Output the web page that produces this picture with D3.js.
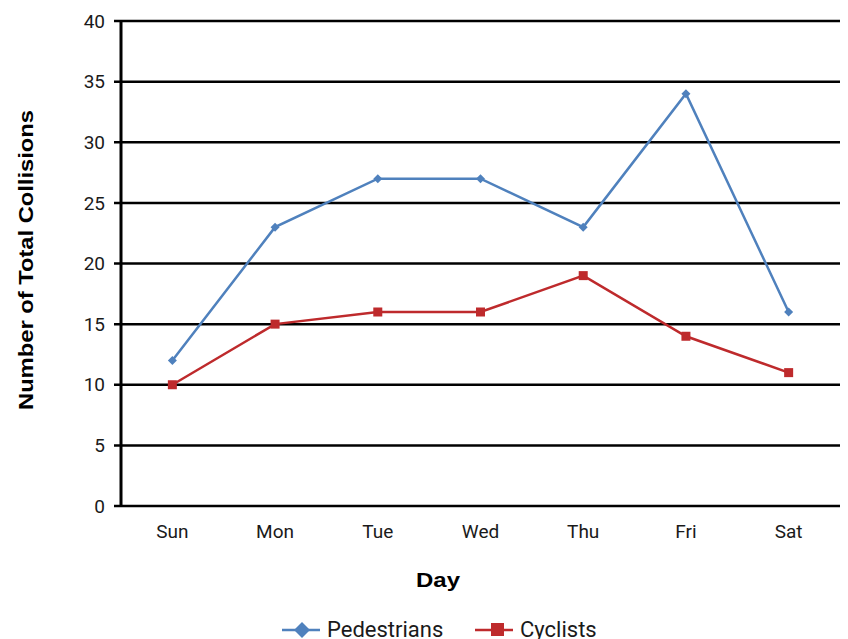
<!DOCTYPE html>
<html>
<head>
<meta charset="utf-8">
<script src="https://cdn.jsdelivr.net/npm/d3@7"></script>
<style>
  html, body { margin: 0; padding: 0; background: #fff; }
  svg { display: block; }
</style>
</head>
<body>
<svg id="chart" width="848" height="639"></svg>
<script>
// Collisions by day of week
const days = ["Sun", "Mon", "Tue", "Wed", "Thu", "Fri", "Sat"];
const pedestrians = [12, 23, 27, 27, 23, 34, 16];
const cyclists = [10, 15, 16, 16, 19, 14, 11];
const yTicks = [0, 5, 10, 15, 20, 25, 30, 35, 40];

const blue = "#4f81bd";
const red = "#be2a2c";
const tickFont = "Roboto, 'Liberation Sans', sans-serif";
const titleFont = "'Liberation Sans', Arial, sans-serif";

const svg = d3.select("#chart");
const plot = { left: 121, right: 840, top: 21, bottom: 506 };

const x = d3.scaleBand().domain(days).range([plot.left, plot.right]);
const y = d3.scaleLinear().domain([0, 40]).range([plot.bottom, plot.top]);

// horizontal gridlines
svg.append("g")
  .selectAll("line")
  .data(yTicks)
  .join("line")
  .attr("x1", plot.left - 7)
  .attr("x2", plot.right)
  .attr("y1", d => y(d))
  .attr("y2", d => y(d))
  .attr("stroke", "#000")
  .attr("stroke-width", 2.5);

// y axis line
svg.append("line")
  .attr("x1", plot.left).attr("x2", plot.left)
  .attr("y1", y(40)).attr("y2", y(0))
  .attr("stroke", "#000").attr("stroke-width", 3);

// y tick labels
svg.append("g")
  .selectAll("text")
  .data(yTicks)
  .join("text")
  .attr("x", plot.left - 16)
  .attr("y", d => y(d))
  .attr("dy", "0.35em")
  .attr("text-anchor", "end")
  .attr("font-family", tickFont)
  .attr("font-size", 19)
  .attr("fill", "#1a1a1a")
  .text(d => d);

// x tick labels
svg.append("g")
  .selectAll("text")
  .data(days)
  .join("text")
  .attr("x", d => x(d) + x.bandwidth() / 2)
  .attr("y", 538)
  .attr("text-anchor", "middle")
  .attr("font-family", tickFont)
  .attr("font-size", 19)
  .attr("fill", "#1a1a1a")
  .text(d => d);

// axis titles
svg.append("text")
  .attr("x", 438)
  .attr("y", 587)
  .attr("text-anchor", "middle")
  .attr("font-family", titleFont)
  .attr("font-weight", "bold")
  .attr("font-size", 21)
  .attr("textLength", 44)
  .attr("lengthAdjust", "spacingAndGlyphs")
  .text("Day");

svg.append("text")
  .attr("transform", "translate(33, 260) rotate(-90)")
  .attr("text-anchor", "middle")
  .attr("font-family", titleFont)
  .attr("font-weight", "bold")
  .attr("font-size", 21)
  .attr("textLength", 300)
  .attr("lengthAdjust", "spacingAndGlyphs")
  .text("Number of Total Collisions");

const cx = d => x(d) + x.bandwidth() / 2;
const line = d3.line().x((d, i) => cx(days[i])).y(d => y(d));

function diamond(sel, s) {
  return sel.attr("d", `M0,${-s}L${s},0L0,${s}L${-s},0Z`);
}

// series lines
svg.append("path").datum(pedestrians)
  .attr("d", line).attr("fill", "none")
  .attr("stroke", blue).attr("stroke-width", 2.5);
svg.append("path").datum(cyclists)
  .attr("d", line).attr("fill", "none")
  .attr("stroke", red).attr("stroke-width", 2.5);

// markers
svg.append("g").selectAll("path")
  .data(pedestrians)
  .join("path")
  .attr("transform", (d, i) => `translate(${cx(days[i])},${y(d)})`)
  .call(diamond, 4.5)
  .attr("fill", blue);

svg.append("g").selectAll("rect")
  .data(cyclists)
  .join("rect")
  .attr("x", (d, i) => cx(days[i]) - 4.5)
  .attr("y", d => y(d) - 4.5)
  .attr("width", 9).attr("height", 9)
  .attr("fill", red);

// legend
const legendY = 630;
const lg = svg.append("g");
lg.append("line").attr("x1", 282).attr("x2", 320).attr("y1", legendY).attr("y2", legendY)
  .attr("stroke", blue).attr("stroke-width", 2.5);
lg.append("path").attr("transform", `translate(302,${legendY})`).call(diamond, 8).attr("fill", blue);
lg.append("text").attr("x", 327).attr("y", 637)
  .attr("font-family", tickFont).attr("font-size", 22).attr("fill", "#1a1a1a").text("Pedestrians");

lg.append("line").attr("x1", 475).attr("x2", 513).attr("y1", legendY).attr("y2", legendY)
  .attr("stroke", red).attr("stroke-width", 2.5);
lg.append("rect").attr("x", 491).attr("y", legendY - 7).attr("width", 13).attr("height", 13).attr("fill", red);
lg.append("text").attr("x", 520).attr("y", 637)
  .attr("font-family", tickFont).attr("font-size", 22).attr("fill", "#1a1a1a").text("Cyclists");
</script>
</body>
</html>
